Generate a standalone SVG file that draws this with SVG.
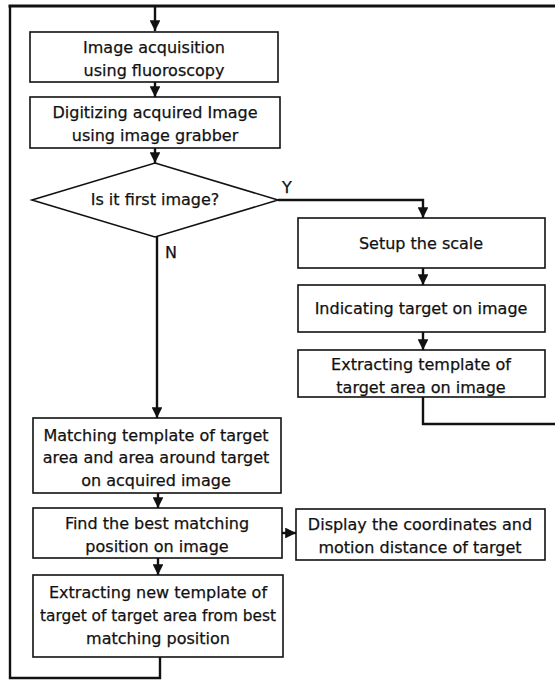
<svg xmlns="http://www.w3.org/2000/svg" width="555" height="684" viewBox="0 0 555 684">
<style>
.box{fill:#fff;stroke:#111;stroke-width:1.6}
.t{font-family:"DejaVu Sans",sans-serif;font-size:16px;fill:#111;text-anchor:middle;stroke:#111;stroke-width:0.25}
.c{fill:none;stroke:#111;stroke-width:2.4}
</style>
<defs>
<marker id="ah" viewBox="0 0 10 10" refX="10" refY="5" markerWidth="4.5" markerHeight="4.5" orient="auto" markerUnits="strokeWidth">
<path d="M0,0 L10,5 L0,10 z" fill="#111"/>
</marker>
</defs>
<rect width="555" height="684" fill="#fff"/>
<g id="connectors">
<path class="c" d="M160,657 V678 H10 V6" />
<path class="c" d="M8.5,6 H555" style="stroke-width:3"/>
<path class="c" d="M155,6 V31" marker-end="url(#ah)"/>
<path class="c" d="M155,82 V97" marker-end="url(#ah)"/>
<path class="c" d="M155,148 V163" marker-end="url(#ah)"/>
<path class="c" d="M278,200 H423 V218" marker-end="url(#ah)"/>
<path class="c" d="M423,268 V285" marker-end="url(#ah)"/>
<path class="c" d="M423,332 V350" marker-end="url(#ah)"/>
<path class="c" d="M423,397 V424 H555"/>
<path class="c" d="M157,237 V418" marker-end="url(#ah)"/>
<path class="c" d="M158,493 V508" marker-end="url(#ah)"/>
<path class="c" d="M282,533 H296" marker-end="url(#ah)"/>
<path class="c" d="M158,558 V575" marker-end="url(#ah)"/>
<text class="t" x="287" y="193">Y</text>
<text class="t" x="171" y="258">N</text>
</g>
<g id="acq">
<rect class="box" x="30" y="32" width="248" height="50"/>
<text class="t" x="154" y="53">Image acquisition</text>
<text class="t" x="154" y="76">using fluoroscopy</text>
</g>
<g id="digitize">
<rect class="box" x="30" y="97" width="250" height="51"/>
<text class="t" x="155" y="118">Digitizing acquired Image</text>
<text class="t" x="155" y="141">using image grabber</text>
</g>
<g id="decision">
<polygon class="box" points="155,163 278,200 155,237 32,200"/>
<text class="t" x="155" y="205">Is it first image?</text>
</g>
<g id="setup">
<rect class="box" x="298" y="218" width="247" height="50"/>
<text class="t" x="421" y="249">Setup the scale</text>
</g>
<g id="indicate">
<rect class="box" x="298" y="285" width="247" height="47"/>
<text class="t" x="421" y="314">Indicating target on image</text>
</g>
<g id="extract1">
<rect class="box" x="298" y="350" width="247" height="47"/>
<text class="t" x="421" y="370">Extracting template of</text>
<text class="t" x="421" y="393">target area on image</text>
</g>
<g id="match">
<rect class="box" x="33" y="418" width="248" height="75"/>
<text class="t" x="156" y="441">Matching template of target</text>
<text class="t" x="156" y="463">area and area around target</text>
<text class="t" x="156" y="486">on acquired image</text>
</g>
<g id="find">
<rect class="box" x="33" y="508" width="249" height="50"/>
<text class="t" x="157" y="529">Find the best matching</text>
<text class="t" x="157" y="552">position on image</text>
</g>
<g id="display">
<rect class="box" x="296" y="509" width="249" height="51"/>
<text class="t" x="420" y="530">Display the coordinates and</text>
<text class="t" x="420" y="553">motion distance of target</text>
</g>
<g id="extract2">
<rect class="box" x="33" y="575" width="250" height="82"/>
<text class="t" x="158" y="598">Extracting new template of</text>
<text class="t" x="158" y="621" textLength="236" lengthAdjust="spacingAndGlyphs">target of target area from best</text>
<text class="t" x="158" y="644">matching position</text>
</g>
</svg>
